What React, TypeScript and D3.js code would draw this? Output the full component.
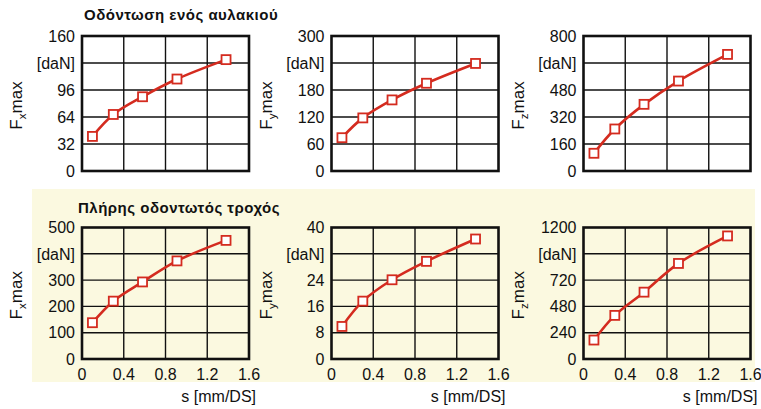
import React from "react";
import * as d3 from "d3";

const sValues = [0.1, 0.3, 0.58, 0.91, 1.38];
const xTicks = [0, 0.4, 0.8, 1.2, 1.6];

const grooveFx = [41, 67, 88, 109, 132];
const grooveFy = [74, 118, 158, 195, 239];
const grooveFz = [105, 249, 395, 533, 691];
const fullFx = [138, 220, 293, 373, 451];
const fullFy = [9.9, 17.6, 24.1, 29.7, 36.5];
const fullFz = [173, 398, 610, 872, 1123];

const ticksGrooveFx = [0, 32, 64, 96, 128, 160];
const ticksGrooveFy = [0, 60, 120, 180, 240, 300];
const ticksGrooveFz = [0, 160, 320, 480, 640, 800];
const ticksFullFx = [0, 100, 200, 300, 400, 500];
const ticksFullFy = [0, 8, 16, 24, 32, 40];
const ticksFullFz = [0, 240, 480, 720, 960, 1200];

const titleTop = "Οδόντωση ενός αυλακιού";
const titleBottom = "Πλήρης οδοντωτός τροχός";
const unitLabel = "[daN]";
const xTitle = "s [mm/DS]";

const RED = "#d42b1f";
const FONT = "Liberation Sans, Arial, sans-serif";
const TICK_FS = 16;

type PanelProps = {
  left: number;
  top: number;
  width: number;
  height: number;
  values: number[];
  ticks: number[];
  sub: string;
  showX: boolean;
  bg: string;
};

function Panel({ left, top, width, height, values, ticks, sub, showX, bg }: PanelProps) {
  const x = d3.scaleLinear().domain([0, 1.6]).range([left, left + width]);
  const y = d3
    .scaleLinear()
    .domain([0, ticks[ticks.length - 1]])
    .range([top + height, top]);
  const pts: [number, number][] = sValues.map((s, i) => [x(s), y(values[i])]);
  const line = d3.line().curve(d3.curveCatmullRom.alpha(0.5))(pts) || "";
  const ms = 9;
  return (
    <g>
      <rect x={left} y={top} width={width} height={height} fill={bg} />
      {xTicks.slice(1, -1).map((t) => (
        <line key={"v" + t} x1={x(t)} x2={x(t)} y1={top} y2={top + height} stroke="#111" strokeWidth={1.4} />
      ))}
      {ticks.slice(1, -1).map((t) => (
        <line key={"h" + t} x1={left} x2={left + width} y1={y(t)} y2={y(t)} stroke="#111" strokeWidth={1.4} />
      ))}
      <rect x={left} y={top} width={width} height={height} fill="none" stroke="#111" strokeWidth={2.6} />
      {ticks.map((t, i) => (
        <text
          key={"yl" + t}
          x={left - 7}
          y={y(t)}
          dy="0.36em"
          textAnchor="end"
          fontSize={TICK_FS}
          fontFamily={FONT}
          fill="#111"
        >
          {i === ticks.length - 2 ? unitLabel : t}
        </text>
      ))}
      <text
        transform={`translate(${left - 60},${top + height / 2 + 2}) rotate(-90)`}
        textAnchor="middle"
        fontSize={17}
        fontFamily={FONT}
        fill="#111"
      >
        F<tspan fontSize={11.5} dy={4}>{sub}</tspan>
        <tspan dy={-4}>max</tspan>
      </text>
      {showX &&
        xTicks.map((t) => (
          <text
            key={"xl" + t}
            x={x(t)}
            y={top + height + 21}
            textAnchor="middle"
            fontSize={TICK_FS}
            fontFamily={FONT}
            fill="#111"
          >
            {t === 0 ? "0" : t.toFixed(1)}
          </text>
        ))}
      {showX && (
        <text
          x={left + width + 7}
          y={top + height + 43}
          textAnchor="end"
          fontSize={TICK_FS}
          fontFamily={FONT}
          fill="#111"
        >
          {xTitle}
        </text>
      )}
      <path d={line} fill="none" stroke={RED} strokeWidth={2.6} />
      {pts.map(([px, py], i) => (
        <rect
          key={"m" + i}
          x={px - ms / 2}
          y={py - ms / 2}
          width={ms}
          height={ms}
          fill="#fff"
          stroke={RED}
          strokeWidth={1.8}
        />
      ))}
    </g>
  );
}

export default function App() {
  const lefts = [82, 331.5, 583.5];
  const w = 167;
  const topRow = { top: 36, height: 135 };
  const botRow = { top: 227.5, height: 131.5 };
  const yellow = "#fbf9e0";
  const topData = [
    { v: grooveFx, t: ticksGrooveFx, s: "x" },
    { v: grooveFy, t: ticksGrooveFy, s: "y" },
    { v: grooveFz, t: ticksGrooveFz, s: "z" },
  ];
  const botData = [
    { v: fullFx, t: ticksFullFx, s: "x" },
    { v: fullFy, t: ticksFullFy, s: "y" },
    { v: fullFz, t: ticksFullFz, s: "z" },
  ];
  return (
    <svg
      width={761}
      height={409}
      style={{ position: "absolute", left: 0, top: 0, background: "#fff" }}
    >
      <rect x={0} y={0} width={761} height={409} fill="#fff" />
      <rect x={32} y={189} width={723} height={193} fill={yellow} />
      <text x={84} y={20} fontSize={15} letterSpacing={0.5} fontWeight="bold" fontFamily={FONT} fill="#111">
        {titleTop}
      </text>
      <text x={78} y={213} fontSize={15} letterSpacing={0.5} fontWeight="bold" fontFamily={FONT} fill="#111">
        {titleBottom}
      </text>
      {topData.map((d, i) => (
        <Panel
          key={"t" + i}
          left={lefts[i]}
          top={topRow.top}
          width={w}
          height={topRow.height}
          values={d.v}
          ticks={d.t}
          sub={d.s}
          showX={false}
          bg="#fff"
        />
      ))}
      {botData.map((d, i) => (
        <Panel
          key={"b" + i}
          left={lefts[i]}
          top={botRow.top}
          width={w}
          height={botRow.height}
          values={d.v}
          ticks={d.t}
          sub={d.s}
          showX={true}
          bg={yellow}
        />
      ))}
    </svg>
  );
}
